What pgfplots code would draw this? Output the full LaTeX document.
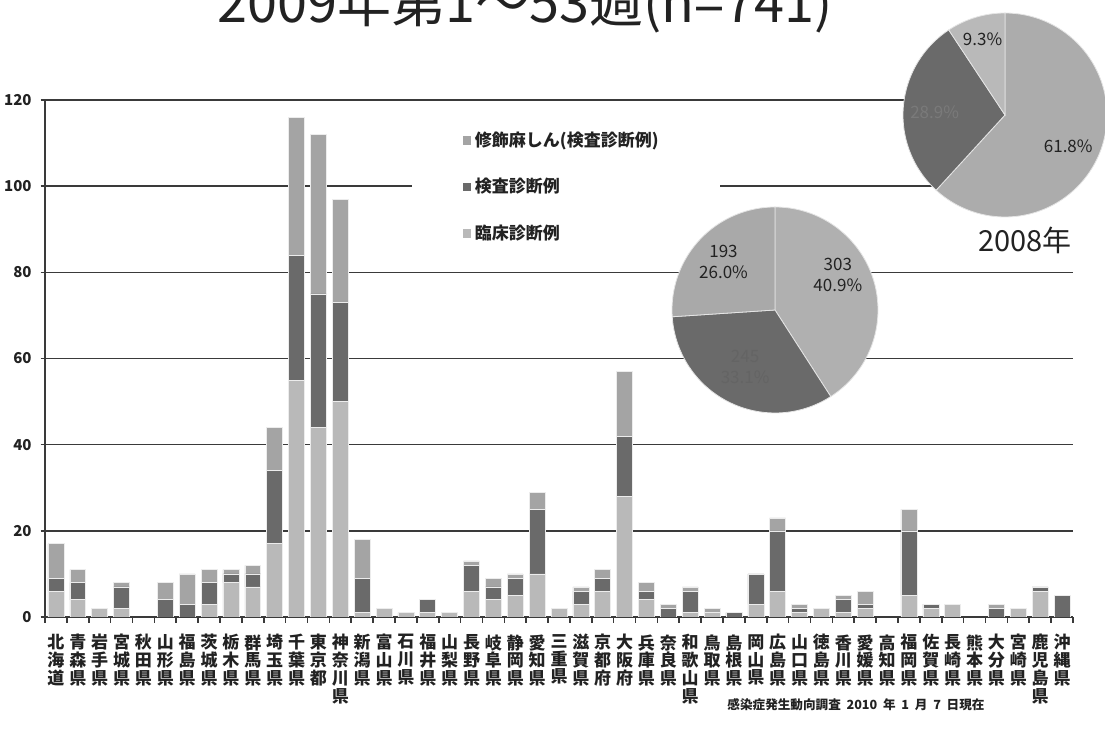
\documentclass[border=0pt]{standalone}
\usepackage{pgfplots}
\pgfplotsset{compat=1.18}
\usepackage{pgfplotstable}
\usepackage{fontspec}
\setmainfont{Noto Sans CJK JP}
\definecolor{rin}{HTML}{B9B9B9}
\definecolor{ken}{HTML}{6A6A6A}
\definecolor{shu}{HTML}{A4A4A4}
\definecolor{gridc}{HTML}{3A3A3A}
\definecolor{txt}{HTML}{222222}

% x  rin(臨床診断例) ken(検査診断例) shu(修飾麻しん)
\pgfplotstableread{
x rin ken shu
0 6 3 8
1 4 4 3
2 2 0 0
3 2 5 1
4 0 0 0
5 0 4 4
6 0 3 7
7 3 5 3
8 8 2 1
9 7 3 2
10 17 17 10
11 55 29 32
12 44 31 37
13 50 23 24
14 1 8 9
15 2 0 0
16 1 0 0
17 1 3 0
18 1 0 0
19 6 6 1
20 4 3 2
21 5 4 1
22 10 15 4
23 2 0 0
24 3 3 1
25 6 3 2
26 28 14 15
27 4 2 2
28 0 2 1
29 1 5 1
30 1 0 1
31 0 1 0
32 3 7 0
33 6 14 3
34 1 1 1
35 2 0 0
36 1 3 1
37 2 1 3
38 0 0 0
39 5 15 5
40 2 1 0
41 3 0 0
42 0 0 0
43 0 2 1
44 2 0 0
45 6 1 0
46 0 5 0
}\bardata

\pgfplotsset{sqleg/.style={legend image code/.code={\fill[##1,/tikz/.cd,draw=none] (0pt,-2.1pt) rectangle (4.2pt,2.1pt);}}}

\begin{document}
\begin{tikzpicture}
\begin{axis}[
  at={(22.5pt,60.5pt)}, anchor=south west, scale only axis,
  width=514pt, height=258.5pt,
  xmin=-0.5, xmax=46.5, ymin=0, ymax=120,
  ybar stacked, bar width=0.73,
  axis x line*=bottom, axis y line*=left,
  axis line style={draw=gridc, line width=0.8pt, -},
  ytick={0,20,...,120},
  ymajorgrids, grid style={gridc, line width=0.8pt},
  xtick={0,...,46},
  minor xtick={-0.5,0.5,...,46.5},
  tick align=outside,
  major tick length=2.2pt, minor tick length=3pt,
  major x tick style={draw=none},
  minor x tick style={draw=gridc, line width=0.8pt},
  y tick style={draw=gridc, line width=0.8pt},
  /pgf/number format/assume math mode=true,
  yticklabel style={font=\bfseries\fontsize{7.5}{9}\selectfont, text=txt, xshift=-1pt},
  xticklabel style={font=\bfseries\fontsize{8.5}{8.9}\selectfont, text=txt, align=center, anchor=north, yshift=-3pt},
  xticklabels={{北\\海\\道},{青\\森\\県},{岩\\手\\県},{宮\\城\\県},{秋\\田\\県},{山\\形\\県},{福\\島\\県},{茨\\城\\県},{栃\\木\\県},{群\\馬\\県},{埼\\玉\\県},{千\\葉\\県},{東\\京\\都},{神\\奈\\川\\県},{新\\潟\\県},{富\\山\\県},{石\\川\\県},{福\\井\\県},{山\\梨\\県},{長\\野\\県},{岐\\阜\\県},{静\\岡\\県},{愛\\知\\県},{三\\重\\県},{滋\\賀\\県},{京\\都\\府},{大\\阪\\府},{兵\\庫\\県},{奈\\良\\県},{和\\歌\\山\\県},{鳥\\取\\県},{島\\根\\県},{岡\\山\\県},{広\\島\\県},{山\\口\\県},{徳\\島\\県},{香\\川\\県},{愛\\媛\\県},{高\\知\\県},{福\\岡\\県},{佐\\賀\\県},{長\\崎\\県},{熊\\本\\県},{大\\分\\県},{宮\\崎\\県},{鹿\\児\\島\\県},{沖\\縄\\県}},
  reverse legend,
  legend cell align=left,
  legend style={at={(rel axis cs:0.400,0.955)}, anchor=north west, draw=none, fill=none,
    font=\bfseries\fontsize{8.5}{10}\selectfont, text=txt, row sep=10.5pt,
    /tikz/every even column/.append style={column sep=0.5pt}},
]
\addplot[fill=rin, draw=white!85!gray, line width=0.3pt, sqleg] table[x=x, y=rin] {\bardata};
\addlegendentry{臨床診断例}
\addplot[fill=ken, draw=white!85!gray, line width=0.3pt, sqleg] table[x=x, y=ken] {\bardata};
\addlegendentry{検査診断例}
\addplot[fill=shu, draw=white!85!gray, line width=0.3pt, sqleg] table[x=x, y=shu] {\bardata};
\addlegendentry{修飾麻しん(検査診断例)}
\fill[white] (rel axis cs:0.357,0.70) rectangle (rel axis cs:0.657,0.97);
\end{axis}

% 2009 pie: 臨床 303, 検査 245, 修飾 193 (n=741)
\pgfmathsetmacro{\tot}{303+245+193}
\pgfmathsetmacro{\aa}{90-303/\tot*360}
\pgfmathsetmacro{\ab}{\aa-245/\tot*360}
\pgfmathsetmacro{\cxa}{cos(\aa)}
\pgfmathsetmacro{\cya}{sin(\aa)}
\pgfmathsetmacro{\cxb}{cos(\ab)}
\pgfmathsetmacro{\cyb}{sin(\ab)}
\begin{axis}[at={(387.5pt,214pt)}, anchor=origin, hide axis, scale only axis, clip=false,
  width=103pt, height=103pt, xmin=-1, xmax=1, ymin=-1, ymax=1]
\fill[rin!95!black, draw=white!80!gray, line width=0.4pt] (axis cs:0,0) -- (axis cs:0,1) arc[start angle=90, end angle=\aa, radius=51.5pt] -- cycle;
\fill[ken, draw=white!80!gray, line width=0.4pt] (axis cs:0,0) -- (axis cs:\cxa,\cya) arc[start angle=\aa, end angle=\ab, radius=51.5pt] -- cycle;
\fill[shu!95!white, draw=white!80!gray, line width=0.4pt] (axis cs:0,0) -- (axis cs:\cxb,\cyb) arc[start angle=\ab, end angle=-270, radius=51.5pt] -- cycle;
\node[font=\fontsize{8.5}{10.5}\selectfont, text=txt, align=center] at (axis cs:0.61,0.34) {303\\40.9\%};
\node[font=\fontsize{8.5}{10.5}\selectfont, text=txt!70!white, align=center] at (axis cs:-0.29,-0.55) {245\\33.1\%};
\node[font=\fontsize{8.5}{10.5}\selectfont, text=txt, align=center] at (axis cs:-0.50,0.47) {193\\26.0\%};
\end{axis}

% 2008 pie
\pgfmathsetmacro{\ba}{90-61.8/100*360}
\pgfmathsetmacro{\bb}{\ba-28.9/100*360}
\pgfmathsetmacro{\dxa}{cos(\ba)}
\pgfmathsetmacro{\dya}{sin(\ba)}
\pgfmathsetmacro{\dxb}{cos(\bb)}
\pgfmathsetmacro{\dyb}{sin(\bb)}
\begin{axis}[at={(502.5pt,311.5pt)}, anchor=origin, hide axis, scale only axis, clip=false,
  width=102pt, height=102pt, xmin=-1, xmax=1, ymin=-1, ymax=1]
\fill[rin!93!black, draw=white!80!gray, line width=0.4pt] (axis cs:0,0) -- (axis cs:0,1) arc[start angle=90, end angle=\ba, radius=51pt] -- cycle;
\fill[ken, draw=white!80!gray, line width=0.4pt] (axis cs:0,0) -- (axis cs:\dxa,\dya) arc[start angle=\ba, end angle=\bb, radius=51pt] -- cycle;
\fill[rin, draw=white!80!gray, line width=0.4pt] (axis cs:0,0) -- (axis cs:\dxb,\dyb) arc[start angle=\bb, end angle=-270, radius=51pt] -- cycle;
\node[font=\fontsize{8.5}{10.5}\selectfont, text=txt] at (axis cs:-0.22,0.74) {9.3\%};
\node[font=\fontsize{8.5}{10.5}\selectfont, text=txt!60!white] at (axis cs:-0.69,0.03) {28.9\%};
\node[font=\fontsize{8.5}{10.5}\selectfont, text=txt] at (axis cs:0.62,-0.31) {61.8\%};
\end{axis}

\node[font=\fontsize{14.5}{16}\selectfont, text=txt] at (512.5pt,249pt) {2008年};
\node[font=\fontsize{27}{30}\selectfont, text=txt, anchor=base] at (262.5pt,357.5pt) {2009年第1～53週(n=741)};
\node[font=\bfseries\fontsize{6.3}{7}\selectfont, text=txt] at (428pt,16.5pt) {感染症発生動向調査\ \ 2010\ \ 年\ \ 1\ \ 月\ \ 7\ \ 日現在};

\pgfresetboundingbox
\useasboundingbox (0pt,0pt) rectangle (552.5pt,369pt);
\end{tikzpicture}
\end{document}
